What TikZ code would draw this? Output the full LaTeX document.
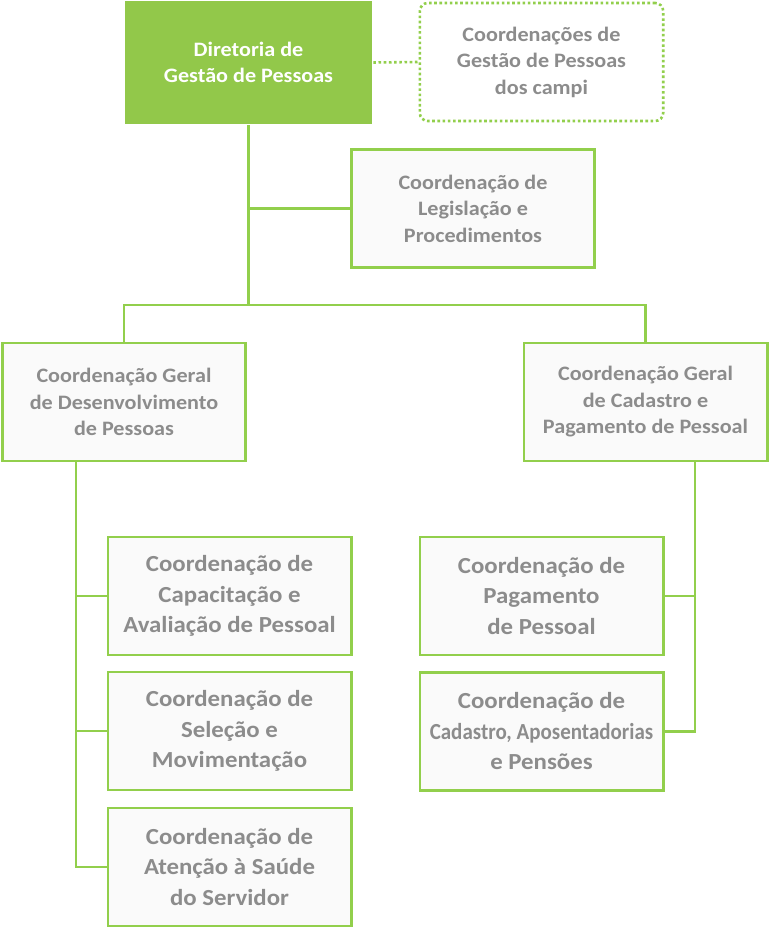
\documentclass[tikz,border=0pt]{standalone}
\usepackage{fontspec}
\setmainfont{Carlito}[FakeStretch=1.08]
\definecolor{lgreen}{HTML}{92CF4C}
\definecolor{topfill}{HTML}{92C84A}
\definecolor{boxfill}{HTML}{FAFAFA}
\definecolor{tgray}{HTML}{8C8C8C}
\begin{document}
\begin{tikzpicture}[x=1pt,y=-1pt]
\useasboundingbox (0,0) rectangle (770,929);
\tikzset{
  box/.style={draw=lgreen,line width=2.6pt,fill=boxfill,minimum width=243.4pt,minimum height=118pt,
    inner sep=0pt,align=center,text=tgray,font=\bfseries\fontsize{20.5}{26.5}\selectfont},
  bigbox/.style={box,font=\bfseries\fontsize{23}{30.5}\selectfont},
  topbox/.style={box,draw=none,fill=topfill,minimum width=247pt,minimum height=123pt,text=white},
  campbox/.style={box,fill=white,draw=lgreen,line width=2.6pt,dash pattern=on 2.6pt off 2.6pt,rounded corners=8pt},
  conn/.style={draw=lgreen,line width=2.6pt},
  dotconn/.style={draw=lgreen,line width=2.6pt,dash pattern=on 2.6pt off 2.6pt}
}
\node[topbox] (dir) at (248.5,62.5) {Diretoria de\\Gestão de Pessoas};
\node[campbox] (camp) at (541.5,62) {Coordenações de\\Gestão de Pessoas\\dos campi};
\node[box] (leg) at (473,208.5) {Coordenação de\\Legislação e\\Procedimentos};
\node[box] (cgd) at (124,402) {Coordenação Geral\\de Desenvolvimento\\de Pessoas};
\node[box] (cgc) at (645.5,402) {Coordenação Geral\\de Cadastro e\\Pagamento de Pessoal};
\node[bigbox] (cap) at (229.5,596) {Coordenação de\\Capacitação e\\Avaliação de Pessoal};
\node[bigbox] (sel) at (229.5,731) {Coordenação de\\Seleção e\\Movimentação};
\node[bigbox] (sau) at (229.5,867) {Coordenação de\\Atenção à Saúde\\do Servidor};
\node[bigbox] (pag) at (541.5,596) {Coordenação de\\Pagamento\\de Pessoal};
\node[bigbox] (cad) at (541.5,731.5) {Coordenação de\\\scalebox{0.845}[1]{Cadastro, Aposentadorias}\\e Pensões};
\coordinate (j1) at (248.5,305);
\coordinate (lv) at (76,0);
\coordinate (rv) at (695,0);
\draw[dotconn] (dir.east) -- (camp.west);
\draw[conn] (dir.south) -- (j1);
\draw[conn] (dir.south |- leg.west) -- (leg.west);
\draw[conn] (cgd.north) |- (j1) -| (cgc.north);
\draw[conn] (lv |- cgd.south) -- (lv |- sau.west) -- (sau.west);
\draw[conn] (lv |- cap.west) -- (cap.west);
\draw[conn] (lv |- sel.west) -- (sel.west);
\draw[conn] (rv |- cgc.south) -- (rv |- cad.east) -- (cad.east);
\draw[conn] (rv |- pag.east) -- (pag.east);
\end{tikzpicture}
\end{document}
